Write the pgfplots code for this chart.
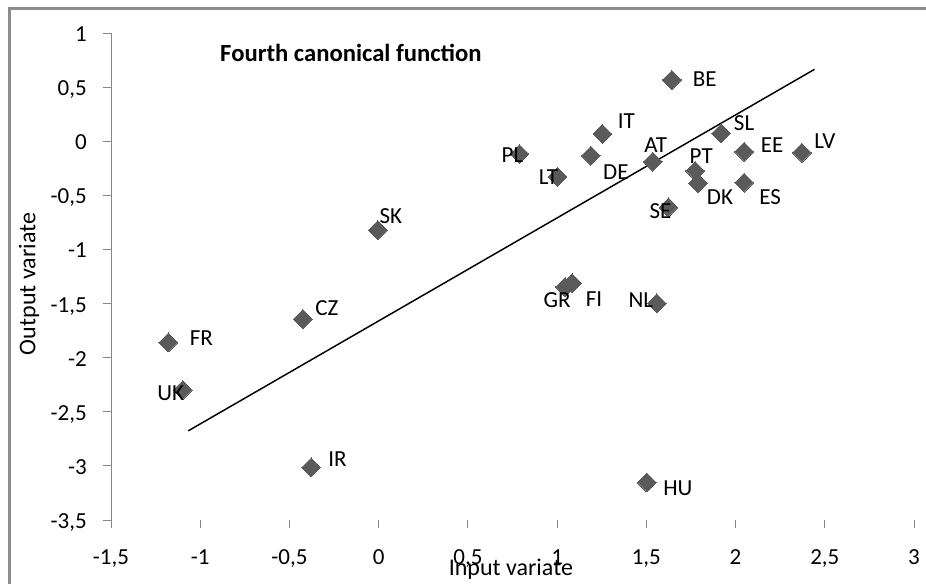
\documentclass[border=0pt]{standalone}
\usepackage{fontspec}
\setmainfont{Carlito}
\usepackage{pgfplots}
\usepackage{pgfplotstable}
\pgfplotsset{compat=1.18}
\definecolor{markgray}{RGB}{90,90,90}
\definecolor{axgray}{RGB}{134,134,134}
\definecolor{framegray}{RGB}{140,140,140}

\pgfplotstableread{
xx yy label dx dy
1.643 0.566 BE 33 1
1.254 0.067 IT 24 12.5
0.789 -0.118 PL -7 -1
1.189 -0.134 DE 25 -16
1.002 -0.328 LT -9 0
1.536 -0.189 AT 3 17
1.919 0.073 SL 23 10
2.048 -0.097 EE 28 7
2.372 -0.106 LV 23 12
1.774 -0.275 PT 6 14.5
1.789 -0.389 DK 22 -14
2.048 -0.383 ES 26 -14
1.624 -0.611 SE -8 -4
1.045 -1.347 GR -8 -13
1.084 -1.311 FI 22 -16
1.559 -1.498 NL -16 3
1.503 -3.153 HU 31 -6
-0.005 -0.821 SK 13 13.5
-0.425 -1.643 CZ 24 10.5
-1.179 -1.859 FR 33 4
-1.098 -2.299 UK -12 -3.5
-0.379 -3.014 IR 26.5 8
}\pts

\begin{document}
\begin{tikzpicture}[x=0.75pt,y=0.75pt]
\useasboundingbox (0,0) rectangle (926,583);
\begin{scope}
\clip (0,0) rectangle (926,583);
\draw[framegray, line width=2pt] (9.5,-20) -- (9.5,574.5) -- (960,574.5);
\end{scope}
\begin{axis}[
  at={(83.25pt,47.25pt)}, anchor=south west,
  scale only axis, width=602.25pt, height=365.25pt,
  xmin=-1.5, xmax=3, ymin=-3.5, ymax=1,
  xtick={-1.5,-1,-0.5,0,0.5,1,1.5,2,2.5,3},
  ytick={-3.5,-3,-2.5,-2,-1.5,-1,-0.5,0,0.5,1},
  axis x line=bottom, axis y line=left,
  x axis line style={draw=none},
  y axis line style={axgray, line width=0.75pt, -},
  tick align=outside, major tick length=6pt,
  xtick style={axgray, line width=0.75pt},
  ytick style={axgray, line width=0.75pt},
  minor tick num=0,
  /pgf/number format/.cd, use comma, assume math mode=true, /pgfplots/.cd,
  ticklabel style={font=\fontsize{17.25}{20}\selectfont, text=black},
  yticklabel style={anchor=base east, inner sep=0pt, xshift=-12pt, yshift=-6.4pt},
  xticklabel style={anchor=base, inner sep=0pt, yshift=-27pt},
  xlabel={Input variate},
  ylabel={Output variate},
  label style={font=\fontsize{18}{21}\selectfont},
  xlabel style={at={(axis description cs:0.498,-0.1005)}, anchor=center, inner sep=0pt},
  ylabel style={at={(axis description cs:-0.102,0.4846)}, anchor=center, inner sep=0pt},
]
\addplot[black, line width=1.1pt] coordinates {(-1.067,-2.676) (2.442,0.664)};
\addplot[only marks, mark=square*, mark size=5pt,
  mark options={rotate=45, fill=markgray, draw=markgray, line width=0pt},
  nodes near coords, point meta=explicit symbolic,
  visualization depends on={\thisrow{dx} \as \dx},
  visualization depends on={\thisrow{dy} \as \dy},
  every node near coord/.append style={anchor=center, inner sep=0pt,
    xshift={(\dx)*0.75pt}, yshift={(\dy)*0.75pt},
    font=\fontsize{17.25}{20}\selectfont, text=black}]
  table[x=xx, y=yy, meta=label]{\pts};
\node[anchor=base west, inner sep=0pt, font=\fontsize{18.5}{22}\selectfont\bfseries]
  at (rel axis cs:0.1357,0.9425) {Fourth canonical function};
\end{axis}
\end{tikzpicture}
\end{document}
